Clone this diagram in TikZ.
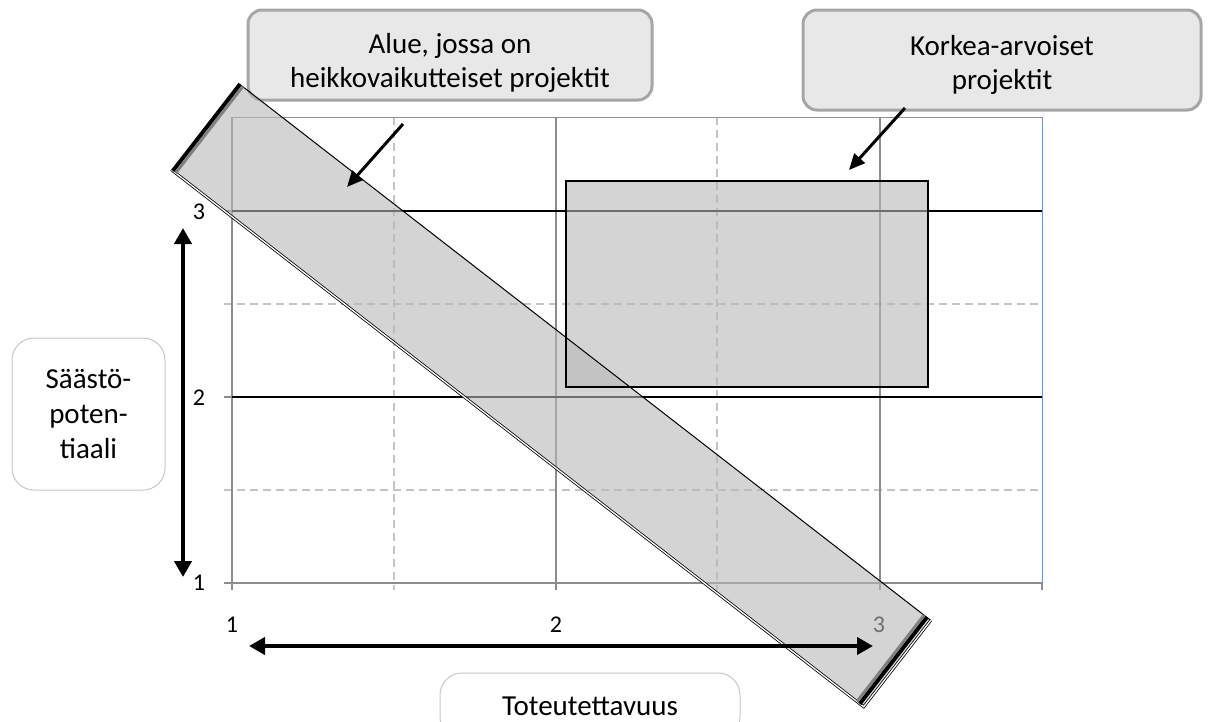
\documentclass[tikz,border=0pt]{standalone}
\usepackage{fontspec}
\setmainfont{Carlito}
\usepackage{tikz}
\usetikzlibrary{arrows.meta}
\usetikzlibrary{calc}

\definecolor{gridgray}{HTML}{8C8C8C}
\definecolor{dashgray}{HTML}{C4C4C4}
\definecolor{frameblue}{HTML}{7095C8}
\definecolor{boxfill}{HTML}{E8E8E8}
\definecolor{boxline}{HTML}{A6A6A6}

\begin{document}
\begin{tikzpicture}[
    x=1pt, y=-1pt, % pixel units, y runs downwards
    gridline/.style={gridgray, line width=1.5pt}, % whole steps
    subgridline/.style={dashgray, line width=1.5pt, dash pattern=on 8pt off 5pt}, % half steps
    valueline/.style={black, line width=2pt}, % levels 2 and 3
    region/.style={fill=black!28, fill opacity=0.6, inner sep=0pt}, % see-through areas
    notebox/.style={
        draw=boxline, % grey frame
        line width=3pt,
        fill=boxfill, % light grey fill
        rounded corners=14pt,
        align=center,
        font=\fontsize{29}{34}\selectfont
    },
    axisbox/.style={draw=black!22, line width=1pt, fill=white, rounded corners=22pt, align=center, font=\fontsize{29}{35}\selectfont},
    numlabel/.style={font=\fontsize{24}{28}\selectfont},
    pointer/.style={line width=3pt, -{Triangle[length=16pt,width=14pt]}},
    spanarrow/.style={line width=4.5pt, {Triangle[length=16pt,width=17pt]}-{Triangle[length=16pt,width=17pt]}}
]
\useasboundingbox (0,0) rectangle (1211,721);

% grid
\draw[subgridline] (394,117) -- (394,590) (717,117) -- (717,590) (224,304) -- (1042,304) (224,490) -- (1042,490);
\draw[gridline] (232,117) -- (232,590) (556,117) -- (556,590) (880,117) -- (880,590) (1042,583) -- (1042,590)
    (224,583) -- (1042,583) (224,211) -- (1042,211) (224,397) -- (1042,397);
\draw[frameblue, line width=1pt] (232,117) -- (1042,117) -- (1042,583);
\draw[valueline] (232,211) -- (1042,211) (232,397) -- (1042,397);

\node[numlabel] (y3) at (199,212) {3};
\node[numlabel] (y2) at (199,398) {2};
\node[numlabel] (y1) at (199,583) {1};
\node[numlabel] (x1) at (232,625) {1};
\node[numlabel] (x2) at (556,625) {2};
\node[numlabel] (x3) at (879,625) {3};

\node[notebox, minimum width=404pt, minimum height=90pt] (alue) at (450,55) {\rule{0pt}{36pt}Alue, jossa on\\heikkovaikutteiset projektit};
\node[notebox, minimum width=398pt, minimum height=100pt] (korkea) at (1002,60) {\rule{0pt}{30pt}Korkea-arvoiset\\projektit};

% areas
\node[region, rotate=-37.8, minimum width=876pt, minimum height=109pt] (lowzone) at (551,395) {};
\node[region, draw=black, line width=1.5pt, minimum width=362pt, minimum height=206pt] (topzone) at (747,284) {};
\draw[line width=1pt] (lowzone.north west) -- (lowzone.north east);
\draw[line width=0.8pt, double=white, double distance=1.3pt] (lowzone.south west) -- (lowzone.south east) -- (lowzone.north east);
\draw[line width=4pt] ($(lowzone.north west)!2pt!(lowzone.north east)$) -- ($(lowzone.south west)!2pt!(lowzone.south east)$);
\draw[black!50, line width=3pt] ($(lowzone.north west)!5.5pt!(lowzone.north east)$) -- ($(lowzone.south west)!5.5pt!(lowzone.south east)$);
\draw[line width=4pt] ($(lowzone.north east)!5pt!(lowzone.north west)$) -- ($(lowzone.south east)!5pt!(lowzone.south west)$);
\draw[black!50, line width=3pt] ($(lowzone.north east)!8.5pt!(lowzone.north west)$) -- ($(lowzone.south east)!8.5pt!(lowzone.south west)$);

% pointers and ranges
\coordinate (aluetail) at (403,124);
\coordinate (aluetip) at (347,187);
\coordinate (korkeatail) at (905,108);
\coordinate (korkeatip) at (849,170);
\draw[pointer] (aluetail) -- (aluetip);
\draw[pointer] (korkeatail) -- (korkeatip);

\coordinate (ylow) at (183,577);
\coordinate (yhigh) at (183,228);
\coordinate (xlow) at (249,646);
\coordinate (xhigh) at (873,646);
\draw[spanarrow] (ylow) -- (yhigh);
\draw[spanarrow] (xlow) -- (xhigh);

\node[axisbox, minimum width=153pt, minimum height=152pt] (saasto) at (88.5,414) {Säästö-\\poten-\\tiaali};
\node[axisbox, minimum width=300pt, minimum height=66pt] (toteut) at (590,706) {Toteutettavuus};
\end{tikzpicture}
\end{document}
